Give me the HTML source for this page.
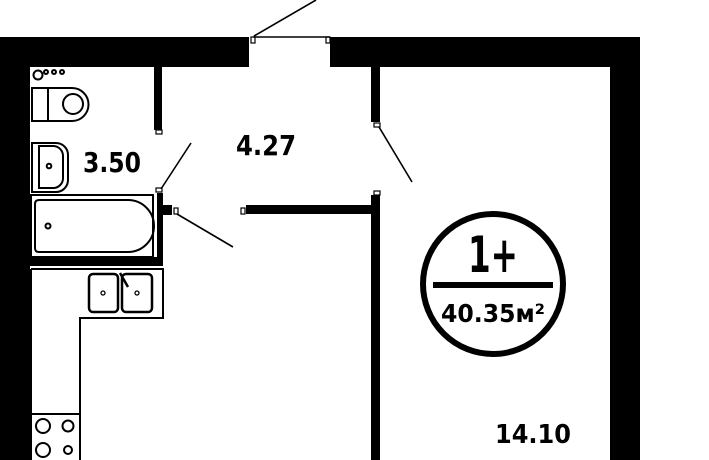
<!DOCTYPE html>
<html><head><style>html,body{margin:0;padding:0;background:#fff}svg{display:block}</style></head>
<body>
<svg width="709" height="460" viewBox="0 0 709 460" xmlns="http://www.w3.org/2000/svg">
<rect width="709" height="460" fill="#fff"/>
<g fill="#000">
<rect x="0" y="37" width="249" height="30"/>
<rect x="330" y="37" width="310" height="30"/>
<rect x="0" y="37" width="30" height="423"/>
<rect x="610" y="37" width="30" height="423"/>
<rect x="154" y="67" width="8" height="63"/>
<rect x="157" y="193" width="6" height="73"/>
<rect x="30" y="257" width="133" height="9"/>
<rect x="163" y="205" width="9" height="10"/>
<rect x="246" y="205" width="126" height="9"/>
<rect x="371" y="67" width="9" height="55"/>
<rect x="371" y="195" width="9" height="265"/>
</g>
<g fill="#fff" stroke="#000" stroke-width="1.2">
<rect x="251" y="37" width="4" height="6"/>
<rect x="326" y="37" width="4" height="6"/>
<rect x="156" y="130" width="6" height="4"/>
<rect x="156" y="188" width="6" height="4"/>
<rect x="174" y="208" width="4" height="6"/>
<rect x="241" y="208" width="4" height="6"/>
<rect x="374" y="123" width="6" height="4"/>
<rect x="374" y="191" width="6" height="4"/>
</g>
<g stroke="#000" stroke-width="1.6" fill="none">
<line x1="253" y1="37" x2="330" y2="37"/>
<line x1="254" y1="36" x2="316" y2="0"/>
<line x1="161" y1="189" x2="191" y2="143"/>
<line x1="177" y1="214" x2="233" y2="247"/>
<line x1="379" y1="127" x2="412" y2="182"/>
</g>
<g stroke="#000" stroke-width="2" fill="none">
<circle cx="38" cy="75" r="4.5"/><circle cx="46" cy="72" r="2"/><circle cx="54" cy="72" r="2"/><circle cx="62" cy="72" r="2"/>
<path d="M32 88 H72 A16.5 16.5 0 0 1 72 121 H32 Z"/><line x1="48" y1="88" x2="48" y2="121"/><circle cx="73" cy="104" r="10"/>
<path d="M32 143 H56 A12 12 0 0 1 68 155 V180 A12 12 0 0 1 56 192 H32 Z"/>
<path d="M39 146 H54 A10 10 0 0 1 63 156 V179 A10 10 0 0 1 54 188 H39 Z"/>
<circle cx="49" cy="166" r="2.3"/>
<rect x="31" y="195" width="122" height="62"/>
<path d="M39 200 H128 A26 26 0 0 1 128 252 H39 Q35 252 35 248 V204 Q35 200 39 200 Z"/>
<circle cx="48" cy="226" r="2.5"/>
<path d="M31 269 H163 V318 H80 V460 M31 269 V460"/>
<line x1="31" y1="414" x2="80" y2="414"/>
<circle cx="43" cy="426" r="7"/><circle cx="68" cy="426" r="5.5"/>
<circle cx="43" cy="450" r="7"/><circle cx="68" cy="450" r="4"/>
</g>
<g stroke="#000" stroke-width="2.5" fill="none">
<rect x="89" y="274" width="29" height="38" rx="4"/>
<rect x="122" y="274" width="30" height="38" rx="4"/>
<line x1="120" y1="273" x2="128" y2="287"/>
</g>
<g fill="none" stroke="#000" stroke-width="1.3"><circle cx="103" cy="293" r="2"/><circle cx="137" cy="293" r="2"/></g>
<circle cx="493" cy="284" r="70" fill="#fff" stroke="#000" stroke-width="6"/>
<rect x="433" y="282" width="120" height="6" fill="#000"/>
<g font-family="'DejaVu Sans Condensed','Liberation Sans',sans-serif" font-weight="bold" fill="#000">
<text x="493" y="272" font-size="50" text-anchor="middle" textLength="50" lengthAdjust="spacingAndGlyphs">1+</text>
<text x="493" y="322" font-size="25" text-anchor="middle" textLength="104" lengthAdjust="spacingAndGlyphs">40.35м²</text>
<text x="533" y="443" font-size="26" text-anchor="middle" textLength="76" lengthAdjust="spacingAndGlyphs">14.10</text>
<text x="266" y="155" font-size="28" text-anchor="middle" textLength="60" lengthAdjust="spacingAndGlyphs">4.27</text>
<text x="112" y="172" font-size="28" text-anchor="middle" textLength="58" lengthAdjust="spacingAndGlyphs">3.50</text>
</g>
</svg>
</body></html>
